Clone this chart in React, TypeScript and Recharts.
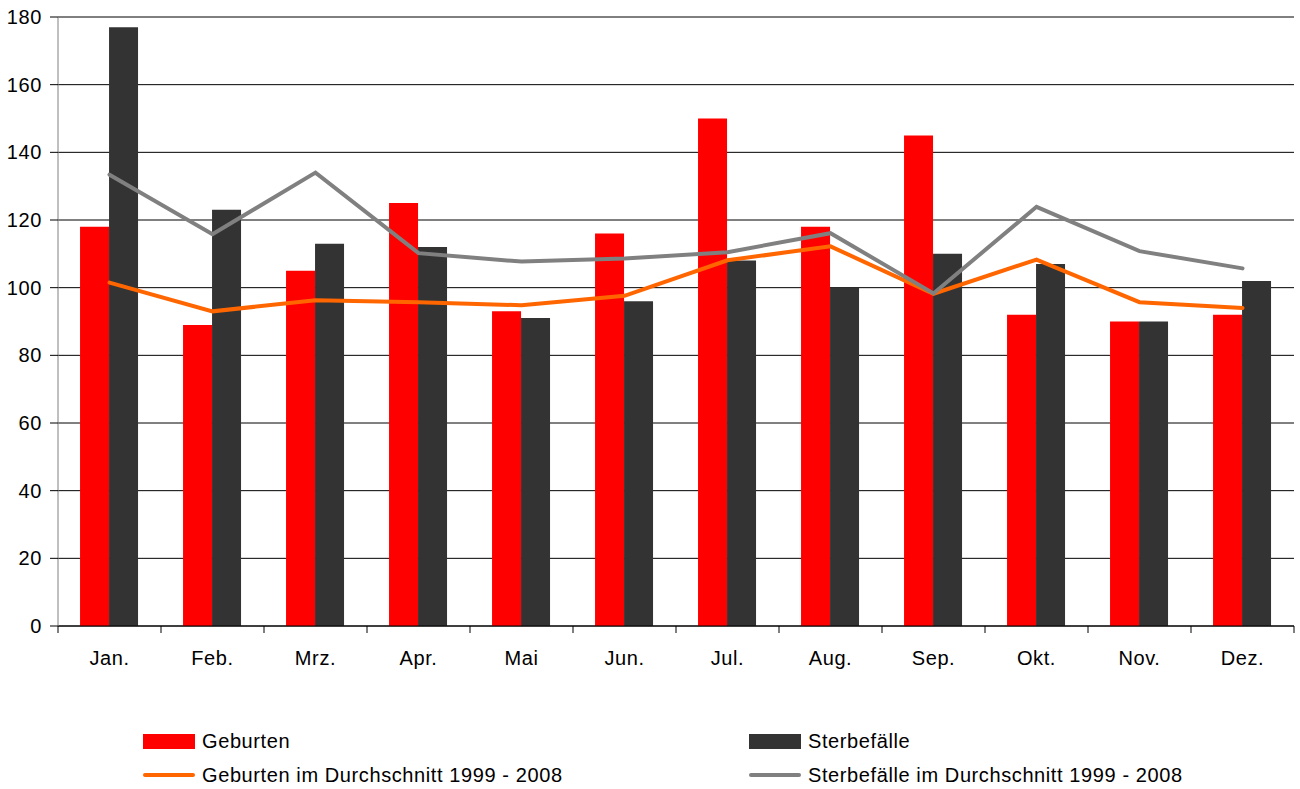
import React from 'react';
import { ComposedChart, Bar, Line, XAxis, YAxis, CartesianGrid, Legend } from 'recharts';

const months = ['Jan.', 'Feb.', 'Mrz.', 'Apr.', 'Mai', 'Jun.', 'Jul.', 'Aug.', 'Sep.', 'Okt.', 'Nov.', 'Dez.'];
const geburten = [118, 89, 105, 125, 93, 116, 150, 118, 145, 92, 90, 92];
const sterbefaelle = [177, 123, 113, 112, 91, 96, 108, 100, 110, 107, 90, 102];
const geburtenAvg = [101.5, 93.0, 96.3, 95.7, 94.8, 97.6, 108.1, 112.2, 98.2, 108.3, 95.7, 94.0];
const sterbeAvg = [133.4, 115.8, 134.0, 110.2, 107.7, 108.6, 110.5, 116.1, 98.3, 123.9, 110.8, 105.7];
const yTicks = [0, 20, 40, 60, 80, 100, 120, 140, 160, 180];

const names = {
  g: 'Geburten',
  s: 'Sterbefälle',
  ga: 'Geburten im Durchschnitt 1999 - 2008',
  sa: 'Sterbefälle im Durchschnitt 1999 - 2008',
};

const colors = { g: '#FF0000', s: '#333333', ga: '#FF6600', sa: '#808080' };

const data = months.map((m, i) => ({
  month: m,
  g: geburten[i],
  s: sterbefaelle[i],
  ga: geburtenAvg[i],
  sa: sterbeAvg[i],
}));

const FONT = '"Liberation Sans", Arial, sans-serif';
const FS = 20;
const LS = 0.6;
const W = 1300;
const H = 789;
const MARGIN = { top: 17, right: 6, left: 0, bottom: 4 };
const YW = 58;

const XTick = (props: any) => {
  const { x, y, payload, index } = props;
  const half = payload && typeof payload.offset === 'number' && payload.offset > 0
    ? payload.offset
    : (W - MARGIN.left - MARGIN.right - YW) / months.length / 2;
  return (
    <g>
      <line x1={x - half} x2={x - half} y1={y} y2={y + 7} stroke="#000" strokeWidth={1} />
      {index === months.length - 1 && (
        <line x1={x + half} x2={x + half} y1={y} y2={y + 7} stroke="#000" strokeWidth={1} />
      )}
      <text x={x} y={y + 39} textAnchor="middle" fill="#000" fontSize={FS} fontFamily={FONT} letterSpacing={LS}>
        {payload.value}
      </text>
    </g>
  );
};

const YTick = (props: any) => {
  const { x, y, payload } = props;
  return (
    <text x={x} y={y + 7} textAnchor="end" fill="#000" fontSize={FS} fontFamily={FONT} letterSpacing={LS}>
      {payload.value}
    </text>
  );
};

const legendItems = [
  { key: 'g', type: 'bar', col: 0, row: 0 },
  { key: 's', type: 'bar', col: 1, row: 0 },
  { key: 'ga', type: 'line', col: 0, row: 1 },
  { key: 'sa', type: 'line', col: 1, row: 1 },
];

const LegendContent = () => {
  const colX = [143, 749];
  const rowY = [22, 56];
  return (
    <div style={{ position: 'relative', width: W, height: 66, fontFamily: FONT, fontSize: FS, letterSpacing: LS, color: '#000' }}>
      {legendItems.map((it) => {
        const k = it.key as keyof typeof names;
        const left = colX[it.col];
        const cy = rowY[it.row];
        return (
          <div key={k}>
            {it.type === 'bar' ? (
              <div style={{ position: 'absolute', left, top: cy - 7, width: 52, height: 15, background: colors[k] }} />
            ) : (
              <div style={{ position: 'absolute', left, top: cy - 2, width: 52, height: 4, borderRadius: 2, background: colors[k] }} />
            )}
            <div style={{ position: 'absolute', left: left + 59, top: cy - 12, lineHeight: '24px', whiteSpace: 'nowrap' }}>
              {names[k]}
            </div>
          </div>
        );
      })}
    </div>
  );
};

export default function App() {
  return (
    <div style={{ position: 'absolute', left: 0, top: 0, width: W, height: H, background: '#fff' }}>
      <ComposedChart width={W} height={H} data={data} margin={MARGIN} barCategoryGap="21.4%" barGap={0}>
        <CartesianGrid vertical={false} stroke="#000" strokeWidth={1} />
        <XAxis
          dataKey="month"
          height={93}
          tickSize={0}
          tickMargin={0}
          tickLine={false}
          axisLine={{ stroke: '#000' }}
          tick={<XTick />}
          interval={0}
        />
        <YAxis
          width={YW}
          domain={[0, 180]}
          ticks={yTicks}
          tickSize={8}
          tickMargin={8}
          tickLine={{ stroke: '#000' }}
          axisLine={{ stroke: '#808080' }}
          tick={<YTick />}
          interval={0}
        />
        <Legend verticalAlign="bottom" align="left" wrapperStyle={{ left: 0, width: W, height: 66 }} content={<LegendContent />} />
        <Bar dataKey="g" name={names.g} fill={colors.g} isAnimationActive={false} />
        <Bar dataKey="s" name={names.s} fill={colors.s} isAnimationActive={false} />
        <Line dataKey="ga" name={names.ga} stroke={colors.ga} strokeWidth={4} dot={false} activeDot={false} strokeLinecap="round" isAnimationActive={false} />
        <Line dataKey="sa" name={names.sa} stroke={colors.sa} strokeWidth={4} dot={false} activeDot={false} strokeLinecap="round" isAnimationActive={false} />
      </ComposedChart>
    </div>
  );
}
